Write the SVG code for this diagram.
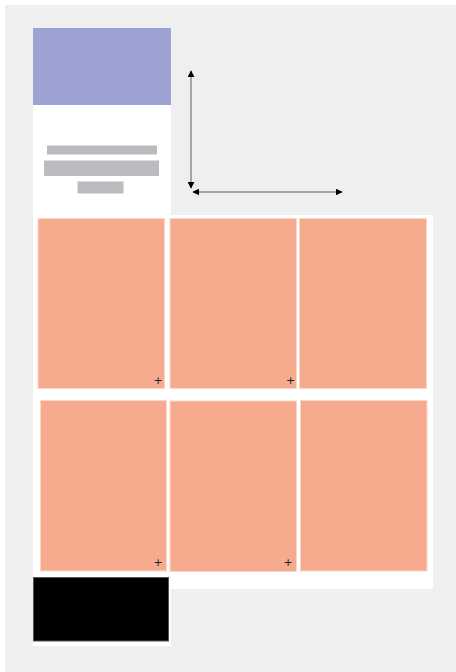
<svg xmlns="http://www.w3.org/2000/svg" width="456" height="672" viewBox="0 0 456 672">
<defs>
<style>
.cell{fill:#f7ab8e;stroke:#fcd6c8;stroke-width:1}
.bar{fill:#bbbcc0}
.conn{stroke:#888;stroke-width:1.4;fill:none}
.plus{font-family:"DejaVu Sans",sans-serif;font-size:11px;fill:#222;text-anchor:middle}
</style>
<marker id="ah" viewBox="0 0 10 10" refX="9" refY="5" markerWidth="7" markerHeight="7" markerUnits="userSpaceOnUse" orient="auto-start-reverse">
<path d="M0,0 L10,5 L0,10 z" fill="#000"/>
</marker>
</defs>
<rect x="0" y="0" width="456" height="672" fill="#fff"/>
<rect x="5" y="5" width="451" height="667" fill="#efefef"/>
<g id="left-column">
<rect x="33" y="28" width="138" height="618" fill="#fff"/>
</g>
<g id="grid-panel">
<rect x="33" y="215" width="400" height="374" fill="#fff"/>
</g>
<g id="header">
<rect x="33" y="28" width="138" height="77" fill="#9ca3d4"/>
</g>
<g id="text-bars">
<rect class="bar" x="47" y="145.5" width="110" height="9"/>
<rect class="bar" x="44" y="160.5" width="115" height="15.5"/>
<rect class="bar" x="77.5" y="181.5" width="46" height="12"/>
</g>
<g id="connectors">
<line class="conn" x1="191" y1="71" x2="191" y2="188" marker-start="url(#ah)" marker-end="url(#ah)"/>
<line class="conn" x1="193" y1="192" x2="342" y2="192" marker-start="url(#ah)" marker-end="url(#ah)"/>
</g>
<g id="cell-1-1"><rect class="cell" x="38" y="218.5" width="126.5" height="170"/><text class="plus" x="158" y="384">+</text></g>
<g id="cell-1-2"><rect class="cell" x="170" y="218.5" width="126.5" height="170"/><text class="plus" x="290.5" y="384">+</text></g>
<g id="cell-1-3"><rect class="cell" x="299.5" y="218.5" width="127" height="170"/></g>
<g id="cell-2-1"><rect class="cell" x="40.5" y="400.5" width="126" height="170.5"/><text class="plus" x="158" y="566">+</text></g>
<g id="cell-2-2"><rect class="cell" x="170" y="401" width="126.5" height="170.5"/><text class="plus" x="288" y="566">+</text></g>
<g id="cell-2-3"><rect class="cell" x="300.5" y="400.5" width="126.5" height="170.5"/></g>
<g id="footer">
<rect x="33.5" y="577.5" width="135" height="63.5" fill="#000" stroke="#555" stroke-width="1"/>
</g>
</svg>
